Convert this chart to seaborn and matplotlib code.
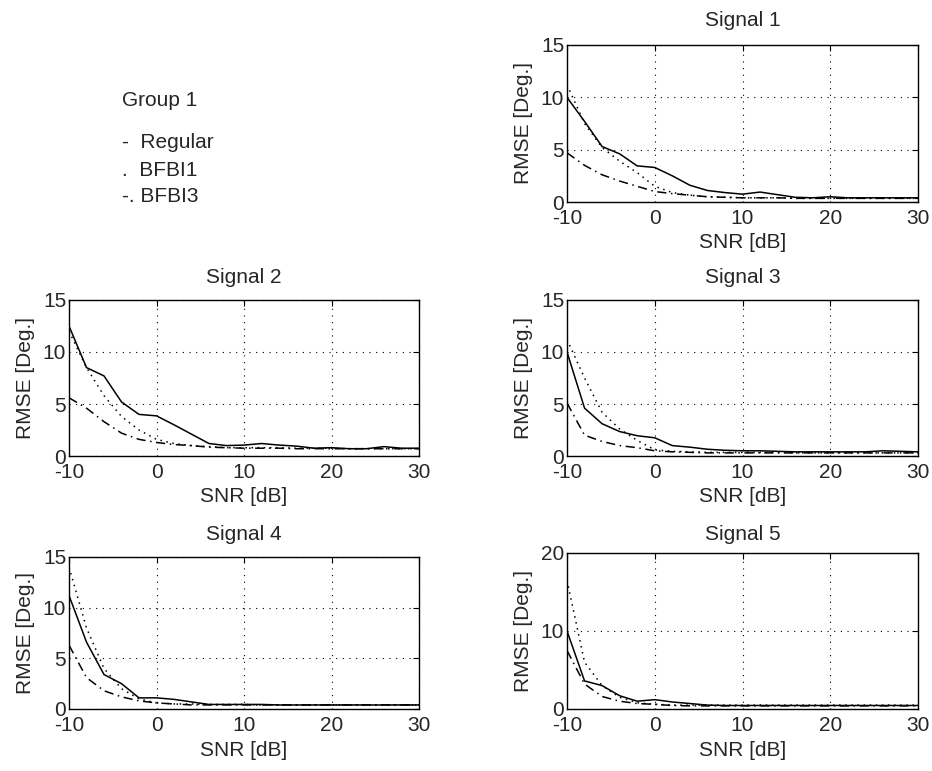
import matplotlib
matplotlib.use("Agg")
import matplotlib.pyplot as plt
import seaborn as sns
import pandas as pd

snr = [-10, -8, -6, -4, -2, 0, 2, 4, 6, 8, 10, 12, 14, 16, 18, 20, 22, 24, 26, 28, 30]

sig1_regular = [10.0, 7.7, 5.3, 4.6, 3.45, 3.3, 2.5, 1.6, 1.1, 0.9, 0.75, 0.95, 0.7, 0.45, 0.4, 0.5, 0.4, 0.4, 0.4, 0.4, 0.4]
sig1_bfbi1 = [11.2, 7.5, 5.2, 3.9, 2.8, 1.5, 0.9, 0.65, 0.5, 0.45, 0.4, 0.4, 0.4, 0.35, 0.35, 0.35, 0.35, 0.35, 0.35, 0.35, 0.35]
sig1_bfbi3 = [4.7, 3.5, 2.6, 2.0, 1.5, 1.0, 0.8, 0.65, 0.5, 0.45, 0.4, 0.4, 0.4, 0.35, 0.35, 0.35, 0.35, 0.35, 0.35, 0.35, 0.35]

sig2_regular = [12.5, 8.5, 7.7, 5.2, 4.0, 3.86, 3.0, 2.1, 1.2, 1.0, 1.05, 1.2, 1.05, 0.95, 0.75, 0.8, 0.7, 0.7, 0.9, 0.75, 0.75]
sig2_bfbi1 = [12.0, 8.5, 5.8, 3.8, 2.5, 1.6, 1.2, 1.0, 0.9, 0.8, 0.8, 0.8, 0.8, 0.75, 0.75, 0.75, 0.7, 0.7, 0.7, 0.7, 0.7]
sig2_bfbi3 = [5.6, 4.6, 3.3, 2.2, 1.6, 1.3, 1.1, 1.0, 0.85, 0.8, 0.75, 0.75, 0.75, 0.7, 0.7, 0.7, 0.7, 0.7, 0.7, 0.7, 0.7]

sig3_regular = [10.0, 4.6, 3.1, 2.35, 1.95, 1.75, 1.0, 0.85, 0.65, 0.55, 0.5, 0.5, 0.45, 0.4, 0.4, 0.4, 0.4, 0.4, 0.5, 0.45, 0.4]
sig3_bfbi1 = [11.2, 7.5, 4.2, 2.6, 1.5, 0.6, 0.45, 0.4, 0.35, 0.35, 0.35, 0.35, 0.35, 0.3, 0.3, 0.3, 0.3, 0.3, 0.3, 0.3, 0.3]
sig3_bfbi3 = [5.1, 2.0, 1.4, 1.0, 0.8, 0.5, 0.4, 0.35, 0.3, 0.3, 0.3, 0.3, 0.3, 0.3, 0.3, 0.3, 0.3, 0.3, 0.3, 0.3, 0.3]

sig4_regular = [11.2, 6.6, 3.4, 2.5, 1.1, 1.1, 0.95, 0.7, 0.45, 0.45, 0.45, 0.45, 0.4, 0.4, 0.4, 0.4, 0.4, 0.4, 0.4, 0.4, 0.4]
sig4_bfbi1 = [14.0, 8.0, 4.0, 2.0, 1.0, 0.6, 0.5, 0.5, 0.45, 0.45, 0.45, 0.4, 0.4, 0.4, 0.4, 0.4, 0.4, 0.4, 0.4, 0.4, 0.4]
sig4_bfbi3 = [6.3, 3.1, 1.8, 1.2, 0.8, 0.6, 0.5, 0.4, 0.4, 0.4, 0.4, 0.4, 0.4, 0.4, 0.4, 0.4, 0.4, 0.4, 0.4, 0.4, 0.4]

sig5_regular = [10.0, 3.6, 3.0, 1.7, 1.0, 1.2, 0.9, 0.7, 0.5, 0.45, 0.45, 0.45, 0.45, 0.45, 0.45, 0.45, 0.45, 0.45, 0.45, 0.45, 0.45]
sig5_bfbi1 = [16.5, 6.0, 3.0, 1.5, 0.8, 0.6, 0.5, 0.5, 0.5, 0.5, 0.5, 0.5, 0.5, 0.5, 0.5, 0.5, 0.5, 0.5, 0.5, 0.5, 0.5]
sig5_bfbi3 = [7.5, 3.2, 1.6, 1.0, 0.7, 0.6, 0.45, 0.4, 0.4, 0.4, 0.4, 0.4, 0.4, 0.4, 0.4, 0.4, 0.4, 0.4, 0.4, 0.4, 0.4]

titles = ["Signal 1", "Signal 2", "Signal 3", "Signal 4", "Signal 5"]
series = [
    (sig1_regular, sig1_bfbi1, sig1_bfbi3),
    (sig2_regular, sig2_bfbi1, sig2_bfbi3),
    (sig3_regular, sig3_bfbi1, sig3_bfbi3),
    (sig4_regular, sig4_bfbi1, sig4_bfbi3),
    (sig5_regular, sig5_bfbi1, sig5_bfbi3),
]
ymax = [15, 15, 15, 15, 20]
yticks = [[0, 5, 10, 15], [0, 5, 10, 15], [0, 5, 10, 15], [0, 5, 10, 15], [0, 10, 20]]

# axes boxes in pixels: left, top, right, bottom
boxes = [
    (567, 45, 918, 202),
    (69, 300, 419, 456),
    (567, 300, 918, 456),
    (69, 557, 419, 709),
    (567, 553, 918, 709),
]
title_pads = [14, 12.5, 12.5, 12, 9]

W, H = 932, 771

sns.set_style("white")
plt.rcParams['font.family'] = ['Liberation Sans', 'DejaVu Sans']
plt.rcParams['font.size'] = 15
plt.rcParams['axes.unicode_minus'] = False

fig = plt.figure(figsize=(W / 100, H / 100), dpi=100)

styles = ['-', (0, (1, 3)), (0, (6, 3, 1, 3))]

for i in range(5):
    l, t, r, b = boxes[i]
    ax = fig.add_axes([l / W, 1 - b / H, (r - l) / W, (b - t) / H])
    df = pd.DataFrame({'SNR': snr, 'Regular': series[i][0],
                       'BFBI1': series[i][1], 'BFBI3': series[i][2]})
    for name, ls in zip(['Regular', 'BFBI1', 'BFBI3'], styles):
        sns.lineplot(data=df, x='SNR', y=name, ax=ax, color='black',
                     linestyle=ls, linewidth=1.1)
    ax.set_xlim(-10, 30)
    ax.set_ylim(0, ymax[i])
    ax.set_xticks([-10, 0, 10, 20, 30])
    ax.set_yticks(yticks[i])
    ax.grid(True, color='black', linestyle=(0, (1, 5)), linewidth=0.8)
    ax.tick_params(direction='in', top=True, right=True, length=4,
                   labelsize=15, color='black')
    ax.tick_params(axis='x', pad=5)
    ax.tick_params(axis='y', pad=2)
    for s in ax.spines.values():
        s.set_color('black')
        s.set_linewidth(1.0)
    ax.set_title(titles[i], fontsize=15, pad=title_pads[i])
    ax.set_xlabel('SNR [dB]', fontsize=15, labelpad=4)
    ax.set_ylabel('RMSE [Deg.]', fontsize=15, labelpad=6)

fig.text(122 / W, 1 - 101 / H, 'Group 1', fontsize=15, va='center', ha='left')
fig.text(122 / W, 1 - 143 / H, '-  Regular', fontsize=15, va='center', ha='left')
fig.text(122 / W, 1 - 170 / H, '.  BFBI1', fontsize=15, va='center', ha='left')
fig.text(122 / W, 1 - 196 / H, '-. BFBI3', fontsize=15, va='center', ha='left')

fig.savefig('out.png', dpi=100, facecolor='white')
